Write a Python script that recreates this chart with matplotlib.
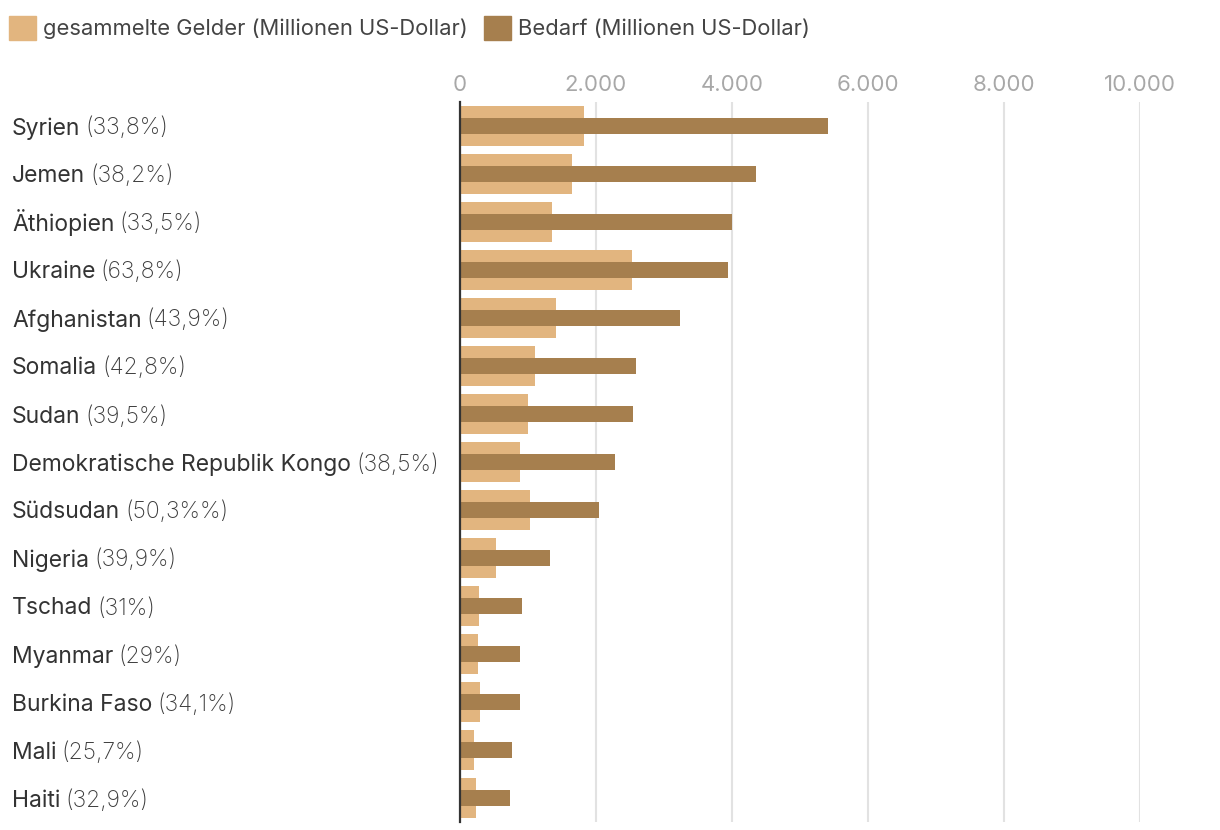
import matplotlib.pyplot as plt
import matplotlib.transforms as mtransforms
from matplotlib.patches import Patch

# data (millions of US dollars)
countries = ['Syrien', 'Jemen', 'Äthiopien', 'Ukraine', 'Afghanistan', 'Somalia',
             'Sudan', 'Demokratische Republik Kongo', 'Südsudan', 'Nigeria',
             'Tschad', 'Myanmar', 'Burkina Faso', 'Mali', 'Haiti']
pct_labels = ['(33,8%)', '(38,2%)', '(33,5%)', '(63,8%)', '(43,9%)', '(42,8%)',
              '(39,5%)', '(38,5%)', '(50,3%%)', '(39,9%)', '(31%)', '(29%)',
              '(34,1%)', '(25,7%)', '(32,9%)']
funded = [1825, 1650, 1350, 2530, 1410, 1110, 1000, 880, 1030, 530, 285, 260, 290, 200, 235]
required = [5410, 4350, 4000, 3940, 3230, 2590, 2550, 2280, 2050, 1320, 910, 880, 880, 760, 735]
xticks = [0, 2000, 4000, 6000, 8000, 10000]
xtick_labels = ['0', '2.000', '4.000', '6.000', '8.000', '10.000']

light = '#E2B57F'
dark = '#A67F4E'

plt.rcParams['font.family'] = ['Inter', 'DejaVu Sans']

W, H = 1220, 830
fig = plt.figure(figsize=(W / 100, H / 100), dpi=100)
ax = fig.add_axes([460 / W, 1 - 822 / H, 680 / W, 720 / H])

y = list(range(len(countries)))
ax.barh(y, funded, height=0.83, color=light, zorder=2)
ax.barh(y, required, height=0.34, color=dark, zorder=3)

ax.set_xlim(0, 10000)
ax.set_ylim(len(countries) - 0.5, -0.5)
ax.xaxis.tick_top()
ax.set_xticks(xticks)
ax.set_xticklabels(xtick_labels)
ax.tick_params(axis='x', length=0, pad=5, labelsize=16, labelcolor='#a8a8a8')
ax.set_yticks([])
for s in ['top', 'right', 'bottom']:
    ax.spines[s].set_visible(False)
ax.spines['left'].set_color('#333333')
ax.spines['left'].set_linewidth(1.6)
ax.spines['left'].set_zorder(5)
ax.grid(axis='x', color='#e2e2e2', linewidth=1.5, zorder=0)
ax.set_axisbelow(True)

# row labels: country name + lighter percentage, on a common baseline
trans = mtransforms.blended_transform_factory(fig.transFigure, ax.transData)
trans = mtransforms.offset_copy(trans, fig=fig, y=-8.5, units='dots')
names = []
for i, c in enumerate(countries):
    t = ax.text(12 / W, i, c, transform=trans, fontsize=16.5, color='#333333',
                va='baseline', ha='left')
    names.append(t)
fig.canvas.draw()
renderer = fig.canvas.get_renderer()
for i, t in enumerate(names):
    bb = t.get_window_extent(renderer)
    ax.text((bb.x1 + 5) / W, i, pct_labels[i], transform=trans, fontsize=16.5,
            color='#3c3c3c', fontweight='light', va='baseline', ha='left')

handles = [Patch(color=light, label='gesammelte Gelder (Millionen US-Dollar)'),
           Patch(color=dark, label='Bedarf (Millionen US-Dollar)')]
fig.legend(handles=handles, loc='center left', bbox_to_anchor=(0.0, 1 - 28 / H),
           ncol=2, frameon=False, fontsize=15.8, handlelength=1.25, handleheight=1.25,
           handletextpad=0.3, columnspacing=0.75, borderaxespad=0, borderpad=0.4,
           labelcolor='#444444')

fig.savefig('out.png', dpi=100)
